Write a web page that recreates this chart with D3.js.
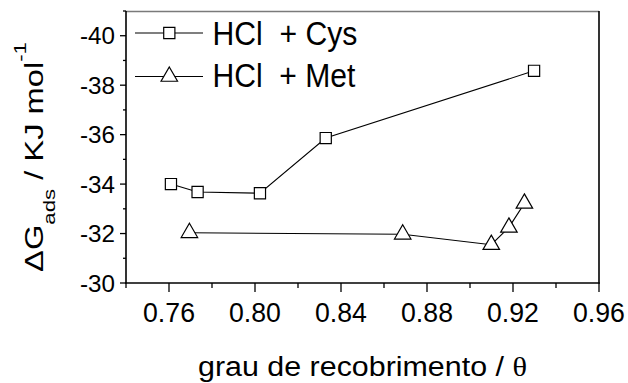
<!DOCTYPE html>
<html>
<head>
<meta charset="utf-8">
<script src="https://cdn.jsdelivr.net/npm/d3@7"></script>
<style>
  body { margin: 0; background: #fff; }
  svg { display: block; }
  text { font-family: "Liberation Sans", Arial, sans-serif; fill: #000; white-space: pre; }
</style>
</head>
<body>
<svg id="chart" width="628" height="383"></svg>
<script>
// Adsorption free energy vs. surface coverage
const xMajorTicks = [0.76, 0.80, 0.84, 0.88, 0.92, 0.96];
const xMinorTicks = [0.74, 0.78, 0.82, 0.86, 0.90, 0.94];
const yMajorTicks = [-30, -32, -34, -36, -38, -40];
const yMinorTicks = [-31, -33, -35, -37, -39, -41];

const seriesNames = ["HCl  + Cys", "HCl  + Met"];
const cysTheta = [0.7609, 0.7733, 0.8023, 0.8329, 0.9298];
const cysDG    = [-34.00, -33.68, -33.63, -35.86, -38.58];
const metTheta = [0.7695, 0.8687, 0.9099, 0.9181, 0.9253];
const metDG    = [-32.03, -31.97, -31.55, -32.25, -33.22];

const svg = d3.select("#chart");
const x = d3.scaleLinear().domain([0.74, 0.96]).range([126, 599]);
const y = d3.scaleLinear().domain([-30, -41]).range([283, 11]);

// Horizontally scale a text element about an anchor so its box is w wide
function fitWidth(sel, w, ax, ay) {
  const bw = sel.node().getBBox().width;
  const k = w / bw;
  sel.attr("transform", `translate(${ax},${ay}) scale(${k},1) translate(${-ax},${-ay})`);
  return k;
}

// ---- ticks ----
const tickG = svg.append("g").attr("stroke", "#000").attr("stroke-width", 1.3);
tickG.selectAll(".xM").data(xMajorTicks).join("line")
  .attr("x1", d => x(d)).attr("x2", d => x(d)).attr("y1", 283).attr("y2", 292);
tickG.selectAll(".xm").data(xMinorTicks).join("line")
  .attr("x1", d => x(d)).attr("x2", d => x(d)).attr("y1", 283).attr("y2", 288);
tickG.selectAll(".yM").data(yMajorTicks).join("line")
  .attr("y1", d => y(d)).attr("y2", d => y(d)).attr("x1", 126).attr("x2", 120);
tickG.selectAll(".ym").data(yMinorTicks).join("line")
  .attr("y1", d => y(d)).attr("y2", d => y(d)).attr("x1", 126).attr("x2", 123);

// ---- tick labels ----
const fmtX = d3.format(".2f");
const xl = svg.append("g").selectAll("text").data(xMajorTicks).join("text")
  .attr("x", d => x(d)).attr("y", 322).attr("text-anchor", "middle")
  .attr("font-size", 27).text(d => fmtX(d));
const kx = 52 / xl.nodes()[0].getBBox().width;
xl.attr("transform", d => `translate(${x(d)},322) scale(${kx},1) translate(${-x(d)},-322)`);

const yl = svg.append("g").selectAll("text").data(yMajorTicks).join("text")
  .attr("x", 115).attr("y", d => y(d) + 8.6).attr("text-anchor", "end")
  .attr("font-size", 24).text(d => d3.format("d")(d).replace("−", "-"));
const ky = 35 / yl.nodes()[5].getBBox().width;
yl.attr("transform", d => `translate(115,${y(d)}) scale(${ky},1) translate(-115,${-y(d)})`);

// ---- frame ----
const frame = svg.append("g").attr("fill", "none");
frame.append("line").attr("x1", 126).attr("x2", 599).attr("y1", 11.5).attr("y2", 11.5)
  .attr("stroke", "#7a7a7a").attr("stroke-width", 1.6);
frame.append("line").attr("x1", 126).attr("x2", 126).attr("y1", 11).attr("y2", 283.5)
  .attr("stroke", "#000").attr("stroke-width", 1.6);
frame.append("line").attr("x1", 599).attr("x2", 599).attr("y1", 11).attr("y2", 283.5)
  .attr("stroke", "#000").attr("stroke-width", 1.6);
frame.append("line").attr("x1", 125.2).attr("x2", 599.8).attr("y1", 283).attr("y2", 283)
  .attr("stroke", "#000").attr("stroke-width", 1.6);

// ---- series ----
const cys = cysTheta.map((t, i) => [t, cysDG[i]]);
const met = metTheta.map((t, i) => [t, metDG[i]]);
const line = d3.line().x(d => x(d[0])).y(d => y(d[1]));
const squarePath = d3.symbol().type(d3.symbolSquare).size(125)();
const trianglePath = d3.symbol().type(d3.symbolTriangle).size(118)();

[[cys, squarePath], [met, trianglePath]].forEach(([data, sym]) => {
  svg.append("path").datum(data).attr("d", line)
    .attr("fill", "none").attr("stroke", "#000").attr("stroke-width", 1.1);
  svg.append("g").selectAll("path").data(data).join("path")
    .attr("d", sym)
    .attr("transform", d => `translate(${x(d[0])},${y(d[1])})`)
    .attr("fill", "#fff").attr("stroke", "#000").attr("stroke-width", 1.2);
});

// ---- legend ----
const legendRows = [
  { name: seriesNames[0], sym: squarePath, ly: 33, ty: 45, w: 145 },
  { name: seriesNames[1], sym: trianglePath, ly: 76.5, ty: 87.5, w: 143 }
];
legendRows.forEach(r => {
  svg.append("line").attr("x1", 135).attr("x2", 203).attr("y1", r.ly).attr("y2", r.ly)
    .attr("stroke", "#000").attr("stroke-width", 1.1);
  svg.append("path").attr("d", r.sym).attr("transform", `translate(169.3,${r.ly})`)
    .attr("fill", "#fff").attr("stroke", "#000").attr("stroke-width", 1.2);
  const t = svg.append("text").attr("x", 212.5).attr("y", r.ty)
    .attr("font-size", 33).text(r.name);
  fitWidth(t, r.w, 212.5, r.ty);
});

// ---- axis titles ----
const xt = svg.append("text").attr("x", 362.5).attr("y", 376.5)
  .attr("text-anchor", "middle").attr("font-size", 27);
xt.append("tspan").text("grau de recobrimento / ");
xt.append("tspan").attr("font-family", "'Liberation Serif', 'Times New Roman', serif").text("θ");
fitWidth(xt, 329, 362.5, 376.5);

const yg = svg.append("g").attr("transform", "translate(42.5,157) rotate(-90)");
const yt = yg.append("text").attr("x", 0).attr("y", 0)
  .attr("text-anchor", "middle").attr("font-size", 25);
yt.append("tspan").text("ΔG");
yt.append("tspan").attr("font-size", 17).attr("dy", 12.5).text("ads");
yt.append("tspan").attr("dy", -12.5).text(" / KJ mol");
yt.append("tspan").attr("font-size", 17).attr("dy", -17).text("-1");
fitWidth(yt, 230, 0, 0);
</script>
</body>
</html>
